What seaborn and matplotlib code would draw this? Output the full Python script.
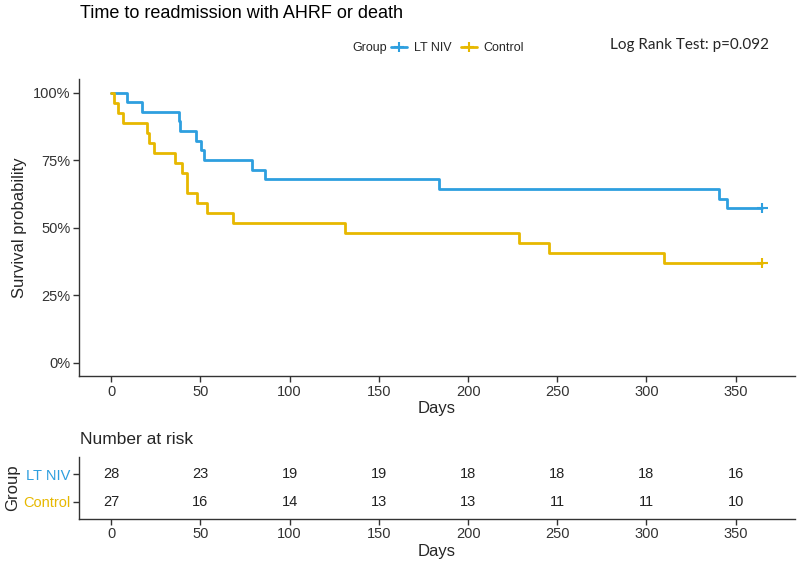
import numpy as np
import pandas as pd
import matplotlib
matplotlib.use('Agg')
import matplotlib.pyplot as plt
from matplotlib.lines import Line2D
import seaborn as sns

# --- Data ---
groups = ['LT NIV', 'Control']
colors = ['#2E9FDF', '#E7B800']

# event (readmission/death) days per group; the rest are censored at study end
ltniv_event_days = [9, 17, 37.7, 38.6, 47.7, 50.5, 52, 79, 86, 183.7, 340.8, 344.9]
ltniv_n = 28
control_event_days = [1.7, 3.6, 6.7, 20.3, 21.2, 23.7, 35.8, 39.5, 42.3, 42.7,
                      47.9, 53.9, 68.2, 130.8, 228.5, 245.4, 309.7]
control_n = 27
censor_day = 365

risk_times = [0, 50, 100, 150, 200, 250, 300, 350]
ltniv_at_risk = [28, 23, 19, 19, 18, 18, 18, 16]
control_at_risk = [27, 16, 14, 13, 13, 11, 11, 10]

log_rank_text = 'Log Rank Test: p=0.092'


def km_curve(event_days, n, end):
    """Kaplan-Meier steps, no ties, censoring only at the end."""
    times = [0.0]
    surv = [1.0]
    s = 1.0
    at_risk = n
    for t in sorted(event_days):
        s *= (at_risk - 1) / at_risk
        at_risk -= 1
        times.append(t)
        surv.append(s)
    times.append(end)
    surv.append(s)
    return times, surv


rows = []
for g, ev, n in [('LT NIV', ltniv_event_days, ltniv_n), ('Control', control_event_days, control_n)]:
    t, s = km_curve(ev, n, censor_day)
    for ti, si in zip(t, s):
        rows.append({'Days': ti, 'surv': si, 'Group': g})
df = pd.DataFrame(rows)
censor_df = df.groupby('Group', sort=False).tail(1)

sns.set_style('white')
plt.rcParams['font.family'] = ['Liberation Sans', 'DejaVu Sans']

fig = plt.figure(figsize=(8, 5.66), dpi=100)
W, H = 800, 566


def px_axes(left, top, right, bottom):
    return fig.add_axes([left / W, 1 - bottom / H, (right - left) / W, (bottom - top) / H])


ax = px_axes(78.7, 79, 795, 376.3)
sns.lineplot(data=df, x='Days', y='surv', hue='Group', palette=colors, hue_order=groups,
             drawstyle='steps-post', estimator=None, sort=False, linewidth=2.0,
             legend=False, ax=ax)
sns.scatterplot(data=censor_df, x='Days', y='surv', hue='Group', palette=colors, hue_order=groups,
                marker='+', s=55, linewidth=1.5, legend=False, ax=ax)

ax.set_xlim(-0.05 * censor_day, 1.05 * censor_day)
ax.set_ylim(-0.05, 1.05)
ax.set_xticks(risk_times)
ax.set_yticks([0, 0.25, 0.5, 0.75, 1.0])
ax.set_yticklabels(['0%', '25%', '50%', '75%', '100%'])
ax.set_xlabel('Days', fontsize=12, labelpad=2)
ax.set_ylabel('Survival probability', fontsize=12, labelpad=4)
for side in ['top', 'right']:
    ax.spines[side].set_visible(False)
for side in ['left', 'bottom']:
    ax.spines[side].set_color('#333333')
    ax.spines[side].set_linewidth(1.0)
ax.tick_params(axis='both', direction='out', length=4, width=1, color='#333333',
               labelsize=10.5, labelcolor='#333333', bottom=True, left=True, pad=2)

fig.text(80 / W, 1 - 14 / H, 'Time to readmission with AHRF or death', fontsize=13,
         va='center', ha='left', color='black')

# legend
fig.text(352 / W, 1 - 48 / H, 'Group', fontsize=9, va='center', ha='left')
handles = [Line2D([0], [0], color=c, lw=2, marker='+', markersize=7, markeredgewidth=1.5)
           for c in colors]
fig.legend(handles, groups, loc='center left', bbox_to_anchor=(391 / W, 1 - 48 / H),
           ncol=2, frameon=False, fontsize=9, handlelength=1.3, handletextpad=0.5,
           columnspacing=0.8, borderaxespad=0, borderpad=0)

fig.text(610 / W, 1 - 45 / H, log_rank_text, fontsize=11,
         family=['Lato', 'DejaVu Sans'], va='center', ha='left')

# --- Risk table ---
ax2 = px_axes(78.7, 457.3, 795, 518.7)
risk_rows = []
for g, vals in [('LT NIV', ltniv_at_risk), ('Control', control_at_risk)]:
    for t, v in zip(risk_times, vals):
        risk_rows.append({'Days': t, 'Group': g, 'n': v})
risk_df = pd.DataFrame(risk_rows)
ypos = {'LT NIV': 2, 'Control': 1}
for _, r in risk_df.iterrows():
    ax2.text(r['Days'], ypos[r['Group']], str(r['n']), ha='center', va='center',
             fontsize=10.5, color='#222222')
ax2.set_xlim(-0.05 * censor_day, 1.05 * censor_day)
ax2.set_ylim(0.4, 2.6)
ax2.set_xticks(risk_times)
ax2.set_yticks([2, 1])
ax2.set_yticklabels(groups)
for lbl, c in zip(ax2.get_yticklabels(), colors):
    lbl.set_color(c)
ax2.set_xlabel('Days', fontsize=12, labelpad=2)
ax2.set_ylabel('Group', fontsize=12, labelpad=2)
for side in ['top', 'right']:
    ax2.spines[side].set_visible(False)
for side in ['left', 'bottom']:
    ax2.spines[side].set_color('#333333')
    ax2.spines[side].set_linewidth(1.0)
ax2.tick_params(axis='both', direction='out', length=4, width=1, color='#333333',
                labelsize=10.5, bottom=True, left=True, pad=2)
for lbl in ax2.get_xticklabels():
    lbl.set_color('#333333')

fig.text(80 / W, 1 - 440 / H, 'Number at risk', fontsize=12.5, va='center', ha='left')

fig.savefig('out.png', dpi=100)
